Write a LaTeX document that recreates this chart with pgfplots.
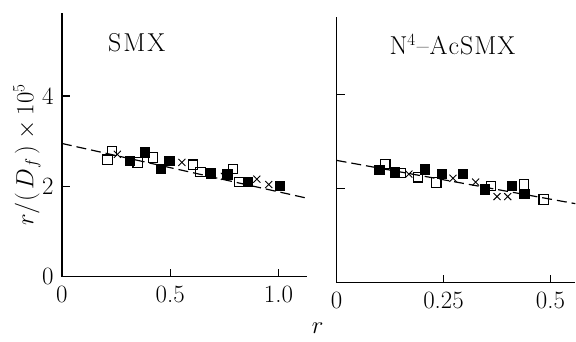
\documentclass[border=0pt]{standalone}
\usepackage{pgfplots}
\pgfplotsset{compat=1.18}
\begin{document}
\fontsize{25}{29}\selectfont
\begin{tikzpicture}
\path (0bp,0bp) rectangle (576bp,335bp);
\pgfplotsset{
  myax/.style={
    scale only axis,
    anchor=south west,
    axis x line*=bottom,
    axis y line*=left,
    axis line style={black, line width=1.4pt, -},
    tick align=inside,
    major tick length=8bp,
    tick style={black, line width=1.2pt},
    xmin=0, ymin=0,
    clip=false,
    tick label style={font=\fontsize{25}{29}\selectfont},
    xticklabel style={yshift=-1bp},
  },
  openSq/.style={only marks, mark=square, mark size=4.7pt, mark options={line width=1.1pt, fill=white}},
  fillSq/.style={only marks, mark=square*, mark size=4.7pt, mark options={line width=1.1pt, fill=black}},
  crs/.style={only marks, mark=x, mark size=5pt, mark options={line width=0.9pt}},
  dline/.style={black, line width=1.2pt, dash pattern=on 10pt off 5pt},
}
\begin{axis}[myax,
  at={(62bp,58bp)}, width=245bp, height=264bp,
  xmax=1.13, ymax=5.84,
  xtick={0,0.5,1.0}, xticklabels={0,0.5,1.0},
  ytick={0,2,4}, yticklabels={0,2,4},
]
\addplot[dline] coordinates {(0,2.95) (1.13,1.74)};
\addplot[openSq] coordinates {(0.21,2.59) (0.23,2.78) (0.35,2.53) (0.42,2.64) (0.605,2.48) (0.64,2.32) (0.79,2.39) (0.82,2.10)};
\addplot[fillSq] coordinates {(0.315,2.56) (0.384,2.75) (0.458,2.39) (0.497,2.56) (0.688,2.28) (0.765,2.26) (0.86,2.10) (1.006,2.01)};
\addplot[crs] coordinates {(0.256,2.71) (0.554,2.53) (0.75,2.22) (0.90,2.16) (0.955,2.04)};
\node[font=\fontsize{26}{30}\selectfont] at (axis description cs:0.306,0.886) {S\kern2pt M\kern2pt X};
\end{axis}
\begin{axis}[myax,
  at={(337bp,52bp)}, width=239bp, height=266bp,
  xmax=0.558, ymax=5.65,
  xtick={0,0.25,0.5}, xticklabels={0,0.25,0.5},
  ytick={2,4}, yticklabels={},
]
\addplot[dline] coordinates {(0,2.60) (0.558,1.68)};
\addplot[openSq] coordinates {(0.114,2.52) (0.151,2.33) (0.19,2.24) (0.233,2.13) (0.361,2.06) (0.438,2.09) (0.484,1.77)};
\addplot[fillSq] coordinates {(0.10,2.39) (0.136,2.34) (0.206,2.41) (0.247,2.31) (0.295,2.31) (0.347,1.98) (0.41,2.05) (0.439,1.89)};
\addplot[crs] coordinates {(0.169,2.31) (0.272,2.22) (0.325,2.14) (0.375,1.83) (0.40,1.83)};
\node[font=\fontsize{26}{30}\selectfont] at (axis description cs:0.485,0.895) {N$^4$\kern1pt--\kern1pt A\kern1pt c\kern1pt S\kern1pt M\kern1pt X};
\end{axis}
\node[rotate=90] at (27bp,180bp) {$r/(\,D_f\,)\times10^5$};
\node[anchor=base] at (318bp,1bp) {$r$};
\end{tikzpicture}
\end{document}
